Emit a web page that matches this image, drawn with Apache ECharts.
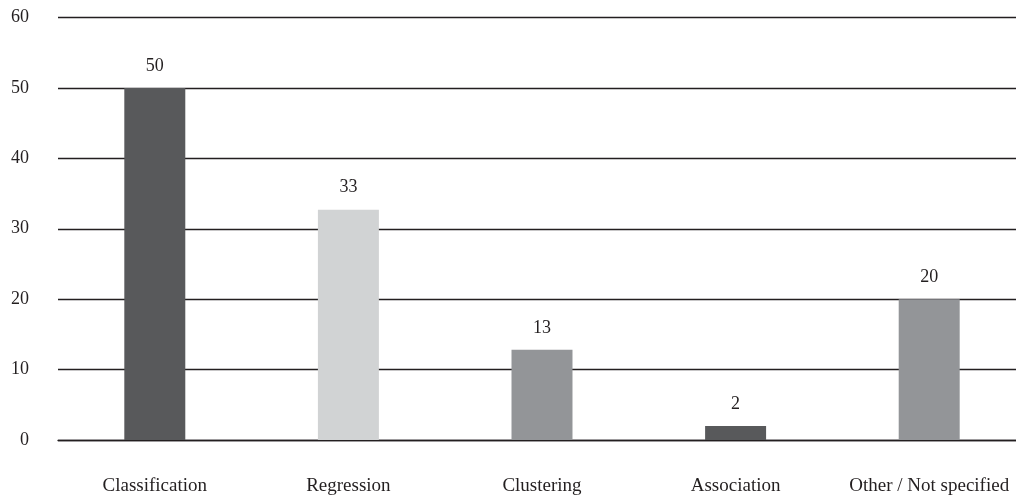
<!DOCTYPE html>
<html>
<head>
<meta charset="utf-8">
<script src="https://cdn.jsdelivr.net/npm/echarts@6/dist/echarts.min.js"></script>
<style>html,body{margin:0;padding:0;background:#fff;}#c{width:1016px;height:495px;}</style>
</head>
<body>
<div id="c"></div>
<script>
const categories = ["Classification", "Regression", "Clustering", "Association", "Other / Not specified"];
const values = [50, 32.7, 12.8, 2, 20];
const barColors = ["#58595b", "#d1d3d4", "#939598", "#58595b", "#939598"];
const yTicks = [0, 10, 20, 30, 40, 50, 60];

const chart = echarts.init(document.getElementById('c'));
const font = "'Liberation Serif', 'DejaVu Serif', serif";
chart.setOption({
  animation: false,
  grid: {left: 58, width: 968, top: 17.5, bottom: 55, containLabel: false, outerBoundsMode: 'none'},
  xAxis: {
    type: 'category',
    data: categories,
    axisLine: {show: true, lineStyle: {color: '#231f20', width: 1.3}},
    axisTick: {show: false},
    axisLabel: {color: '#231f20', fontFamily: font, fontSize: 19, margin: 37, interval: 0}
  },
  yAxis: {
    type: 'value',
    min: yTicks[0],
    max: yTicks[yTicks.length - 1],
    interval: 10,
    axisLine: {show: false},
    axisTick: {show: false},
    axisLabel: {color: '#231f20', fontFamily: font, fontSize: 18, margin: 29},
    splitLine: {lineStyle: {color: '#231f20', width: 1.3}}
  },
  series: [{
    type: 'bar',
    barWidth: '31.5%',
    data: values.map((v, i) => ({value: v, itemStyle: {color: barColors[i]}})),
    label: {
      show: true,
      position: 'top',
      distance: 13,
      color: '#231f20',
      fontFamily: font,
      fontSize: 18,
      formatter: p => Math.round(p.value)
    }
  }]
});
</script>
</body>
</html>
